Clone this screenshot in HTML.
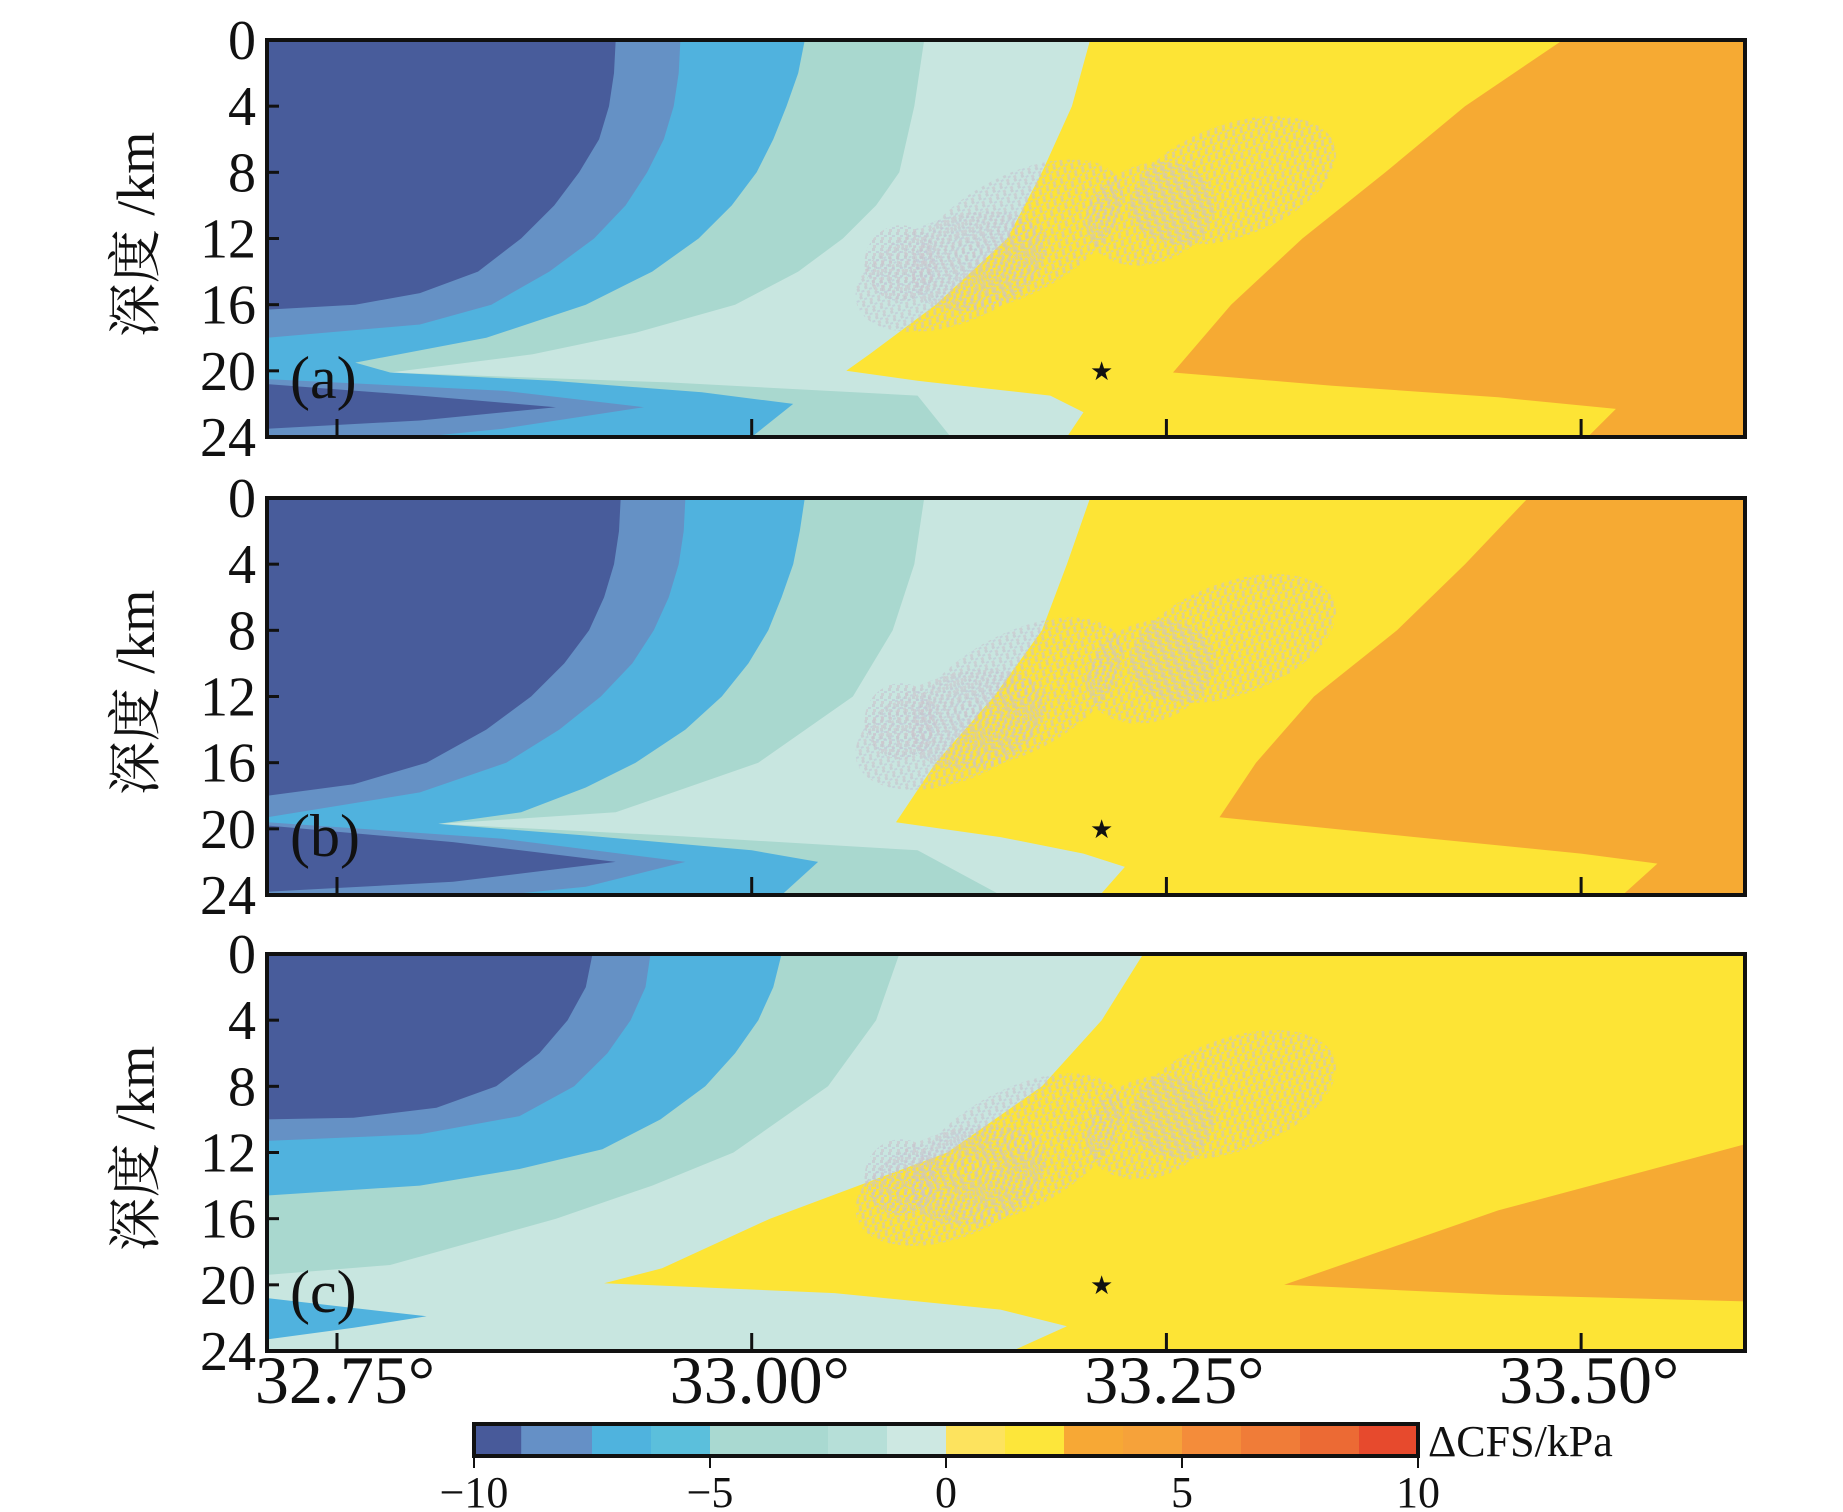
<!DOCTYPE html>
<html><head><meta charset="utf-8"><style>
html,body{margin:0;padding:0;background:#fff}
svg{display:block}
</style></head><body>
<svg id="fig" width="1843" height="1512" viewBox="0 0 1843 1512" xmlns="http://www.w3.org/2000/svg">
<defs>
<pattern id="speck" width="8" height="8" patternUnits="userSpaceOnUse">
<rect x="0" y="0" width="3" height="3" fill="#c6c2cc"/><rect x="4" y="3" width="3" height="2" fill="#c2c5d6"/><rect x="1" y="5" width="3" height="3" fill="#cdc3cc"/>
</pattern>
</defs>
</svg>
<script>
const lonTicks = [32.75, 33.00, 33.25, 33.50];
const lonTickLabels = ["32.75°", "33.00°", "33.25°", "33.50°"];
const depthTicks = [0, 4, 8, 12, 16, 20, 24];
const cbTicks = [-10, -5, 0, 5, 10];
const cbTickLabels = ["\u221210", "\u22125", "0", "5", "10"];
const panelLabels = ["(a)", "(b)", "(c)"];
const colors = {dark:"#485c9b", mid:"#6591c5", blue:"#50b2de", teal:"#a9d8cf", lteal:"#c8e6e0", yellow:"#fde435", orange:"#f6aa33"};

// panel (a) contour boundaries [lon, depth]
const aDark = [[32.918,0],[32.917,2],[32.914,4],[32.908,6],[32.896,8],[32.881,10],[32.861,12],[32.835,14],[32.80,15.3],[32.761,16],[32.708,16.3],[32.708,20.8],[32.80,21.5],[32.882,22.2],[32.80,23],[32.708,23.5]];
const aMid = [[32.957,0],[32.956,2],[32.953,4],[32.947,6],[32.937,8],[32.924,10],[32.905,12],[32.878,14],[32.843,16],[32.80,17.2],[32.708,18],[32.708,20.5],[32.85,21.2],[32.935,22.2],[32.85,23.5],[32.80,24]];
const aBlue = [[33.032,0],[33.028,2],[33.021,4],[33.013,6],[33.003,8],[32.988,10],[32.968,12],[32.94,14],[32.900,16],[32.84,18],[32.761,19.5],[32.782,20.1],[32.88,20.6],[32.97,21.3],[33.025,22],[33.0,24]];
const aTeal = [[33.104,0],[33.098,4],[33.089,8],[33.075,10],[33.055,12],[33.028,14],[32.99,16],[32.93,17.7],[32.868,19],[32.782,20.1],[32.95,20.7],[33.10,21.5],[33.12,24]];
const aLteal = [[33.204,0],[33.193,4],[33.175,8],[33.154,12],[33.111,16],[33.071,19],[33.057,20],[33.10,20.6],[33.18,21.5],[33.20,22.5],[33.19,24]];
const aYellow = [[33.489,0],[33.43,4],[33.382,8],[33.332,12],[33.289,16],[33.254,20.1],[33.35,20.9],[33.45,21.6],[33.521,22.3],[33.504,24]];
// panel (b)
const bDark = [[32.921,0],[32.920,2],[32.917,4],[32.911,6],[32.902,8],[32.887,10],[32.867,12],[32.84,14],[32.804,16],[32.76,17.3],[32.708,18],[32.708,19.8],[32.82,20.8],[32.918,22],[32.82,23.2],[32.708,23.8]];
const bMid = [[32.960,0],[32.959,2],[32.956,4],[32.950,6],[32.941,8],[32.928,10],[32.909,12],[32.884,14],[32.852,16],[32.80,17.8],[32.708,19.3],[32.708,19.6],[32.85,20.6],[32.96,22.0],[32.90,23.5],[32.85,24]];
const bBlue = [[33.032,0],[33.029,2],[33.025,4],[33.018,6],[33.010,8],[32.998,10],[32.982,12],[32.96,14],[32.930,16],[32.90,17.5],[32.861,19],[32.811,19.7],[32.90,20.4],[33.0,21.3],[33.04,22],[33.018,24]];
const bTeal = [[33.104,0],[33.098,4],[33.085,8],[33.061,12],[33.004,16],[32.918,19],[32.811,19.7],[32.95,20.4],[33.10,21.3],[33.15,24]];
const bLteal = [[33.204,0],[33.190,4],[33.175,8],[33.146,12],[33.111,16],[33.091,19],[33.087,19.6],[33.15,20.5],[33.20,21.5],[33.225,22.3],[33.21,24]];
const bYellow = [[33.468,0],[33.43,4],[33.389,8],[33.339,12],[33.304,16],[33.282,19.3],[33.40,20.5],[33.50,21.5],[33.546,22.1],[33.525,24]];
// panel (c)
const cDark = [[32.904,0],[32.900,2],[32.889,4],[32.872,6],[32.846,8],[32.81,9.3],[32.76,9.9],[32.708,10]];
const cMid = [[32.939,0],[32.936,2],[32.927,4],[32.913,6],[32.893,8],[32.86,9.8],[32.80,10.9],[32.708,11.3]];
const cBlue = [[33.018,0],[33.013,2],[33.004,4],[32.99,6],[32.972,8],[32.945,10],[32.91,11.8],[32.86,13],[32.80,14],[32.708,14.6],[32.708,20.8],[32.76,21.4],[32.804,21.9],[32.76,22.6],[32.708,23.3]];
const cTeal = [[33.089,0],[33.075,4],[33.046,8],[32.989,12],[32.94,14],[32.882,16],[32.782,18.8],[32.708,19.4],[32.708,24]];
const cLteal = [[33.236,0],[33.211,4],[33.175,8],[33.118,12],[33.011,16],[32.946,19],[32.911,19.9],[33.05,20.5],[33.15,21.5],[33.19,22.5],[33.157,24]];
const cOrange = [[33.599,11.5],[33.45,15.5],[33.321,20],[33.45,20.6],[33.599,21]];

// earthquake clusters [lon, depth, rLon, rDepth, angle]
const quakeClusters = [[33.29,8.5,0.065,3.4,-20],[33.24,10.5,0.04,3.0,-20],[33.16,11.8,0.07,3.6,-28],[33.12,14,0.06,3.2,-20],[33.09,13.5,0.022,2.3,0]];
const starLon = [33.211, 33.211, 33.211];
const starDepth = [20, 20, 20];

const panelTops = [40, 498, 954];
const PH = 397, PL = 267, PR = 1745;
const LON0 = 32.7078, LON1 = 33.5988;
const NS = "http://www.w3.org/2000/svg";
const SERIF = '"Liberation Serif", "Times New Roman", serif';
const svg = document.getElementById('fig');
function X(lon){return PL + (lon-LON0)/(LON1-LON0)*(PR-PL);}
function Y(d,top){return top + d/24*PH;}
function mk(tag, attrs, parent){const e=document.createElementNS(NS,tag);for(const k in attrs)e.setAttribute(k,attrs[k]);(parent||svg).appendChild(e);return e;}
function txt(attrs,parent,s,fam){const t=mk('text',attrs,parent);t.setAttribute('font-family',fam||SERIF);t.setAttribute('fill','#111');t.textContent=s;return t;}

function region(pts, top, color, g, leftClose){
  let d = pts.map((p,i)=>(i?'L':'M')+X(p[0]).toFixed(1)+','+Y(p[1],top).toFixed(1)).join(' ');
  if(leftClose){d += ' L'+X(LON0)+','+Y(24,top)+' L'+X(LON0)+','+Y(0,top)+' Z';} else d+=' Z';
  return mk('path',{d:d,fill:color},g);
}

const panels = [
  {dark:aDark,mid:aMid,blue:aBlue,teal:aTeal,lteal:aLteal,yellow:aYellow,base:colors.orange},
  {dark:bDark,mid:bMid,blue:bBlue,teal:bTeal,lteal:bLteal,yellow:bYellow,base:colors.orange},
  {dark:cDark,mid:cMid,blue:cBlue,teal:cTeal,lteal:cLteal,yellow:null,base:colors.yellow,orange:cOrange}
];
const names=['a','b','c'];
panels.forEach((P,i)=>{
  const top = panelTops[i];
  const g = mk('g',{});
  
  
  const cp = mk('clipPath',{id:'clip'+i}); mk('rect',{x:PL,y:top,width:PR-PL,height:PH},cp);
  const f = mk('g',{'clip-path':'url(#clip'+i+')'},g);
  const bg = mk('rect',{x:PL,y:top,width:PR-PL,height:PH,fill:P.base},f);
  
  
  if(P.yellow){const r=region(P.yellow,top,colors.yellow,f,true);
    
    }
  if(P.orange){const r=region(P.orange,top,colors.orange,f,false);
    
    }
  [['lteal','light-teal-zone'],['teal','teal-zone'],['blue','blue-zone'],['mid','mid-blue-zone'],['dark','dark-blue-zone']].forEach(([k,n])=>{
    const r=region(P[k],top,colors[k],f,true);
    
    
  });
  quakeClusters.forEach(c=>{
    const cx=X(c[0]), cy=Y(c[1],top), rx=(X(c[0]+c[2])-X(c[0])), ry=c[3]/24*PH;
    const e=mk('ellipse',{cx:cx,cy:cy,rx:rx,ry:ry,fill:'url(#speck)',opacity:0.6,transform:`rotate(${c[4]} ${cx} ${cy})`},f);
    
    
  });
  const st=txt({x:X(starLon[i]),y:Y(starDepth[i],top)+9,'text-anchor':'middle','font-size':26},g,'★','"DejaVu Sans", sans-serif');
  
  
  const fr=mk('rect',{x:PL,y:top,width:PR-PL,height:PH,fill:'none',stroke:'#111','stroke-width':4},g);
  
  
  lonTicks.forEach(l=>{const t=mk('line',{x1:X(l),x2:X(l),y1:top+PH,y2:top+PH-18,stroke:'#111','stroke-width':3},g);
    
    });
  depthTicks.forEach(d=>{
    if(d>0&&d<24){const t=mk('line',{x1:PL,x2:PL+12,y1:Y(d,top),y2:Y(d,top),stroke:'#111','stroke-width':3},g);
      
      }
    const tl=txt({x:256,y:Y(d,top)+19,'text-anchor':'end','font-size':56},g,String(d));
    
    
  });
  const pl=txt({x:290,y:top+358,'font-size':60},g,panelLabels[i]);
  
  
  const yl=txt({x:0,y:0,'text-anchor':'middle','font-size':54,transform:`translate(154 ${top+PH/2-4}) rotate(-90)`},g,'深度 /km','"Liberation Serif", "Noto Serif CJK SC", serif');
  
  
});
lonTicks.forEach((l,i)=>{
  const t=txt({x:X(l)+8,y:1403,'text-anchor':'middle','font-size':68},svg,lonTickLabels[i]);
  
  
});
// colorbar
const cbBounds=[-10,-9,-7.5,-6.25,-5,-2.5,-1.25,0,1.25,2.5,3.75,5,6.25,7.5,8.75,10];
const cbColors=["#485a9a","#6590c6","#4fb3de","#5bbfdc","#a9d9d1","#b6dfd8","#cde8e2","#fde35e","#fde63a","#f7a835","#f6a23a","#f48c3a","#f07c38","#ec6a34","#e74a2d"];
const CBL=474, CBR=1418, CBT=1424, CBB=1456;
function CX(v){return CBL+(v+10)/20*(CBR-CBL);}
const cb=mk('g',{});


cbColors.forEach((c,i)=>{const r=mk('rect',{x:CX(cbBounds[i]),y:CBT,width:CX(cbBounds[i+1])-CX(cbBounds[i])+0.5,height:CBB-CBT,fill:c},cb);
  
  });
mk('rect',{x:CBL,y:CBT,width:CBR-CBL,height:CBB-CBT,fill:'none',stroke:'#111','stroke-width':4},cb);
cbTicks.forEach((v,i)=>{
  const t=mk('line',{x1:CX(v),x2:CX(v),y1:CBB,y2:CBB+12,stroke:'#111','stroke-width':2},cb);
  
  
  const l=txt({x:CX(v),y:1507,'text-anchor':'middle','font-size':44},cb,cbTickLabels[i]);
  
  
});
const ct=txt({x:1428,y:1456,'font-size':44},cb,'ΔCFS/kPa');


</script>
</body></html>
